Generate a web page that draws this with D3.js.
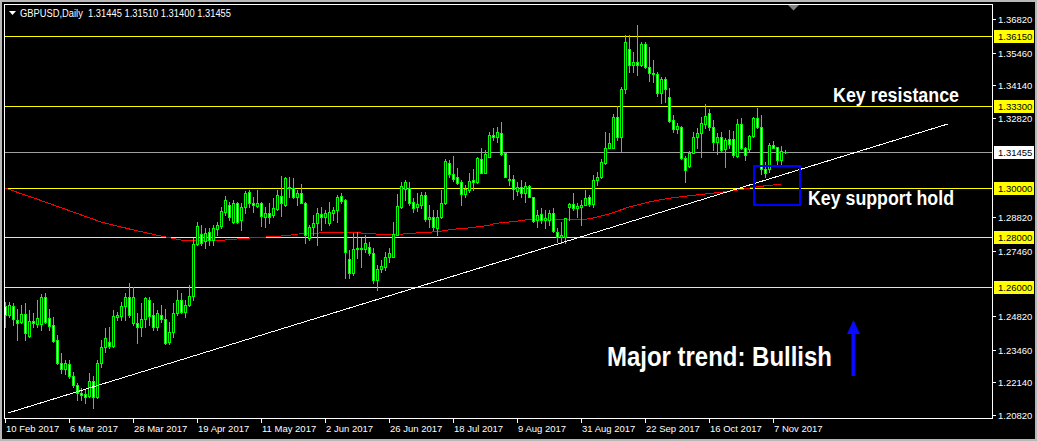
<!DOCTYPE html>
<html lang="en">
<head>
<meta charset="UTF-8">
<title>GBPUSD Daily</title>
<style>
    html, body { margin: 0; padding: 0; background: #000; }
    svg { display: block; }
    text { font-family: "Liberation Sans", Arial, sans-serif; }
    .note { font-family: "Liberation Sans Narrow", "Arial Narrow", "Liberation Sans", sans-serif; font-weight: bold; fill: #fff; }
</style>
</head>
<body>
<script src="https://cdn.jsdelivr.net/npm/d3@7/dist/d3.min.js"></script>
<script>
    const width = 1037
    const height = 441

    // OHLC per daily bar, first bar = 10 Feb 2017
    const open = [1.2523,1.2486,1.2523,1.2466,1.2459,1.2490,1.2403,1.2462,1.2450,1.2449,1.2560,1.2473,1.2446,1.2385,1.2291,1.2267,1.2288,1.2240,1.2203,1.2170,1.2167,1.2159,1.2220,1.2154,1.2291,1.2358,1.2378,1.2361,1.2477,1.2483,1.2523,1.2560,1.2453,1.2453,1.2437,1.2469,1.2547,1.2486,1.2439,1.2486,1.2469,1.2378,1.2416,1.2495,1.2547,1.2500,1.2527,1.2563,
        1.2773,1.2813,1.2786,1.2823,1.2789,1.2832,1.2846,1.2904,1.2931,1.2863,1.2937,1.2870,1.2924,1.2982,1.2937,1.2928,1.2937,1.2883,1.2897,1.2890,1.2913,1.2967,1.2931,1.3005,1.2998,1.2962,1.2978,1.2940,1.2796,1.2841,1.2857,1.2893,1.2883,1.2857,1.2899,1.2910,1.2967,1.2951,1.2711,1.2657,1.2752,1.2756,1.2752,1.2762,1.2735,1.2628,1.2671,1.2679,1.2719,1.2722,
        1.2809,1.2921,1.2994,1.3000,1.2944,1.2921,1.2931,1.2971,1.2874,1.2881,1.2837,1.2883,1.2937,1.3099,1.3056,1.3043,1.3025,1.2975,1.2991,1.3032,1.3025,1.3115,1.3061,1.3123,1.3213,1.3207,1.3223,1.3139,1.3036,1.3034,1.2988,1.3002,1.2978,1.3007,1.2962,1.2870,1.2893,1.2870,1.2870,1.2897,1.2823,1.2803,1.2803,1.2924,1.2933,1.2917,1.2924,1.2931,1.2964,1.2935,
        1.3032,1.3045,1.3099,1.3162,1.3162,1.3285,1.3207,1.3399,1.3560,1.3496,1.3510,1.3496,1.3581,1.3487,1.3465,1.3460,1.3384,1.3438,1.3366,1.3274,1.3236,1.3245,1.3119,1.3088,1.3142,1.3204,1.3223,1.3258,1.3304,1.3247,1.3186,1.3204,1.3156,1.3196,1.3196,1.3129,1.3257,1.3160,1.3156,1.3209,1.3281,1.3245,1.3075,1.3075,1.3173,1.3164,1.3112,1.31445]
    const high = [1.2539,1.2540,1.2533,1.2509,1.2527,1.2533,1.2506,1.2493,1.2547,1.2571,1.2574,1.2509,1.2479,1.2405,1.2331,1.2304,1.2304,1.2257,1.2210,1.2190,1.2183,1.2251,1.2240,1.2304,1.2385,1.2433,1.2439,1.2506,1.2500,1.2540,1.2574,1.2614,1.2601,1.2493,1.2533,1.2560,1.2560,1.2533,1.2506,1.2527,1.2509,1.2459,1.2536,1.2587,1.2576,1.2547,1.2607,1.2797,
        1.2863,1.2850,1.2837,1.2837,1.2850,1.2863,1.2924,1.2967,1.2944,1.2951,1.2944,1.2937,1.2988,1.2991,1.2964,1.2991,1.2944,1.2921,1.2937,1.2958,1.2991,1.3048,1.3045,1.3045,1.3038,1.2991,1.3015,1.2944,1.2850,1.2890,1.2917,1.2924,1.2910,1.2944,1.2924,1.2971,1.2978,1.2954,1.2749,1.2819,1.2823,1.2796,1.2809,1.2782,1.2756,1.2688,1.2708,1.2742,1.2756,1.2863,
        1.2975,1.3025,1.3032,1.3025,1.2958,1.2978,1.2984,1.2984,1.2931,1.2910,1.2910,1.2991,1.3115,1.3112,1.3129,1.3079,1.3032,1.3011,1.3061,1.3075,1.3126,1.3160,1.3153,1.3227,1.3240,1.3247,1.3267,1.3142,1.3092,1.3052,1.3025,1.3032,1.3025,1.3011,1.2964,1.2910,1.2917,1.2910,1.2910,1.2917,1.2837,1.2863,1.2879,1.2937,1.2978,1.2937,1.2951,1.2991,1.2971,1.3052,
        1.3065,1.3115,1.3227,1.3220,1.3297,1.3331,1.3409,1.3617,1.3617,1.3550,1.3658,1.3590,1.3590,1.3570,1.3516,1.3469,1.3449,1.3447,1.3402,1.3294,1.3261,1.3250,1.3129,1.3150,1.3227,1.3240,1.3287,1.3339,1.3317,1.3274,1.3220,1.3227,1.3200,1.3234,1.3231,1.3277,1.3281,1.3166,1.3213,1.3287,1.3321,1.3294,1.3106,1.3180,1.3190,1.3166,1.3169,1.31510]
    const low = [1.2438,1.2479,1.2446,1.2385,1.2453,1.2385,1.2399,1.2439,1.2439,1.2426,1.2453,1.2426,1.2378,1.2288,1.2251,1.2248,1.2230,1.2197,1.2143,1.2143,1.2132,1.2156,1.2109,1.2150,1.2277,1.2338,1.2352,1.2356,1.2466,1.2466,1.2466,1.2479,1.2446,1.2374,1.2401,1.2439,1.2446,1.2426,1.2426,1.2459,1.2369,1.2369,1.2399,1.2486,1.2493,1.2479,1.2523,1.2547,
        1.2769,1.2769,1.2756,1.2769,1.2769,1.2809,1.2837,1.2890,1.2870,1.2859,1.2857,1.2830,1.2897,1.2924,1.2904,1.2924,1.2846,1.2843,1.2857,1.2883,1.2910,1.2886,1.2927,1.2964,1.2958,1.2931,1.2937,1.2776,1.2789,1.2809,1.2769,1.2830,1.2857,1.2850,1.2870,1.2863,1.2940,1.2634,1.2634,1.2648,1.2715,1.2681,1.2742,1.2729,1.2614,1.2587,1.2661,1.2668,1.2702,1.2719,
        1.2809,1.2917,1.2951,1.2931,1.2904,1.2908,1.2917,1.2867,1.2843,1.2830,1.2809,1.2877,1.2935,1.3045,1.3029,1.3015,1.2931,1.2964,1.2984,1.2991,1.3021,1.3059,1.3059,1.3123,1.3193,1.3186,1.3133,1.3043,1.3011,1.2954,1.2971,1.2962,1.2944,1.2962,1.2863,1.2843,1.2857,1.2837,1.2850,1.2823,1.2782,1.2776,1.2778,1.2870,1.2910,1.2883,1.2850,1.2931,1.2927,1.2923,
        1.3011,1.3038,1.3096,1.3160,1.3160,1.3193,1.3150,1.3382,1.3469,1.3469,1.3456,1.3492,1.3483,1.3433,1.3429,1.3371,1.3341,1.3348,1.3267,1.3227,1.3220,1.3115,1.3025,1.3085,1.3139,1.3160,1.3123,1.3240,1.3234,1.3153,1.3137,1.3150,1.3085,1.3160,1.3126,1.3126,1.3156,1.3112,1.3150,1.3207,1.3240,1.3056,1.3045,1.3065,1.3160,1.3088,1.3092,1.31400]
    const close = [1.2486,1.2527,1.2469,1.2453,1.2489,1.2412,1.2462,1.2455,1.2473,1.2560,1.2457,1.2443,1.2381,1.2291,1.2267,1.2291,1.2240,1.2203,1.2170,1.2162,1.2156,1.2220,1.2154,1.2291,1.2356,1.2392,1.2361,1.2482,1.2486,1.2523,1.2560,1.2486,1.2560,1.2437,1.2469,1.2554,1.2482,1.2439,1.2493,1.2469,1.2372,1.2419,1.2493,1.2547,1.2500,1.2527,1.2563,1.2773,
        1.2846,1.2776,1.2816,1.2789,1.2837,1.2850,1.2908,1.2951,1.2883,1.2937,1.2863,1.2924,1.2980,1.2940,1.2931,1.2940,1.2887,1.2897,1.2881,1.2917,1.2971,1.2940,1.3038,1.2998,1.2962,1.2978,1.2940,1.2809,1.2841,1.2859,1.2897,1.2881,1.2897,1.2904,1.2910,1.2964,1.2948,1.2742,1.2657,1.2752,1.2756,1.2752,1.2776,1.2735,1.2628,1.2671,1.2684,1.2719,1.2735,1.2812,
        1.2927,1.3007,1.3025,1.2940,1.2917,1.2935,1.2971,1.2873,1.2881,1.2843,1.2883,1.2937,1.3110,1.3055,1.3036,1.3021,1.2975,1.2994,1.3029,1.3025,1.3119,1.3061,1.3137,1.3213,1.3207,1.3227,1.3135,1.3045,1.3032,1.2994,1.3002,1.2980,1.3007,1.2964,1.2866,1.2890,1.2870,1.2877,1.2897,1.2827,1.2803,1.2809,1.2877,1.2933,1.2917,1.2927,1.2931,1.2958,1.2935,1.3032,
        1.3045,1.3106,1.3160,1.3180,1.3285,1.3207,1.3399,1.3588,1.3496,1.3510,1.3496,1.3581,1.3489,1.3465,1.3459,1.3384,1.3438,1.3398,1.3271,1.3236,1.3250,1.3119,1.3072,1.3142,1.3204,1.3223,1.3261,1.3290,1.3247,1.3186,1.3207,1.3153,1.3193,1.3177,1.3133,1.3257,1.3160,1.3133,1.3209,1.3281,1.3245,1.3075,1.3059,1.3173,1.3162,1.3112,1.3149,1.31455]

    // moving average (red), read at some bar indices
    const maIdx = [0,7,15,24,32,39,45,50,55,58,61,68,71,73,78,83,87,90,94,97,101,106,109,111,113,116,118,121,122,124,127,130,136,142,146,151,156,161,165,168,171,175,179,182,185,188,191,194]
    const maVal = [1.2999,1.2960,1.2914,1.2862,1.2830,1.2805,1.2786,1.2785,1.2789,1.2793,1.2797,1.2804,1.2808,1.2813,1.2817,1.2821,1.2820,1.2816,1.2812,1.2809,1.2816,1.2820,1.2825,1.2830,1.2834,1.2838,1.2842,1.2848,1.2854,1.2859,1.2863,1.2870,1.2871,1.2873,1.2874,1.2894,1.2922,1.2943,1.2955,1.2962,1.2968,1.2975,1.2982,1.2988,1.2996,1.3004,1.3010,1.3014]

    // trend line anchors (bar index, price)
    const trendIdx = [0.75, 235.75]
    const trendVal = [1.2090, 1.3258]

    const levels = [1.36150, 1.33300, 1.30000, 1.28000, 1.26000]
    const bid = 1.31455
    const priceTicks = [1.36820, 1.35460, 1.34140, 1.32820, 1.28820, 1.27460, 1.24820, 1.23460, 1.22140, 1.20820]
    const dateLabels = ['10 Feb 2017', '6 Mar 2017', '28 Mar 2017', '19 Apr 2017', '11 May 2017', '2 Jun 2017',
        '26 Jun 2017', '18 Jul 2017', '9 Aug 2017', '31 Aug 2017', '22 Sep 2017', '16 Oct 2017', '7 Nov 2017']
    const barsPerLabel = 16

    const plotL = 4, plotR = 992, plotT = 4, plotB = 418
    const x = d3.scaleLinear().domain([-0.25, 246.75]).range([plotL, plotR])
    const y = d3.scaleLinear().domain([1.20820, 1.36820]).range([415, 19])
    const px = v => Math.round(v) + 0.5

    const svg = d3.select('body').append('svg')
        .attr('width', width)
        .attr('height', height)
        .attr('shape-rendering', 'crispEdges')

    svg.append('rect').attr('width', width).attr('height', height).attr('fill', '#000')

    // window border
    svg.append('rect')
        .attr('x', 1).attr('y', 1).attr('width', width - 2).attr('height', height - 2)
        .attr('fill', 'none').attr('stroke', '#b8b8b8').attr('stroke-width', 2)

    // horizontal levels
    svg.append('g').selectAll('line')
        .data(levels)
        .join('line')
        .attr('x1', plotL).attr('x2', plotR)
        .attr('y1', d => px(y(d))).attr('y2', d => px(y(d)))
        .attr('stroke', '#ffff00')

    svg.append('line')
        .attr('x1', plotL).attr('x2', plotR)
        .attr('y1', px(y(bid))).attr('y2', px(y(bid)))
        .attr('stroke', '#a0a0a0')

    // moving average
    const maLine = d3.line()
        .x(d => x(d[0]))
        .y(d => y(d[1]))
    svg.append('path')
        .attr('d', maLine(d3.zip(maIdx, maVal)))
        .attr('fill', 'none')
        .attr('stroke', '#ff0000')

    // candles
    const bars = open.map((o, i) => ({ i, o, h: high[i], l: low[i], c: close[i] }))
    const candles = svg.append('g')
        .selectAll('g')
        .data(bars)
        .join('g')

    candles.append('line')
        .attr('x1', d => px(x(d.i))).attr('x2', d => px(x(d.i)))
        .attr('y1', d => Math.round(y(d.h)))
        .attr('y2', d => Math.round(y(d.l)) + 1)
        .attr('stroke', '#00ff00')

    candles.append('path')
        .attr('d', d => {
            const cx = Math.round(x(d.i))
            const t = Math.round(y(Math.max(d.o, d.c)))
            const b = Math.round(y(Math.min(d.o, d.c)))
            return `M${cx - 0.5},${t + 0.5}h2v${b - t}h-2z`
        })
        .attr('fill', d => d.c >= d.o ? '#000' : '#fff')
        .attr('stroke', '#00ff00')

    // trend line
    svg.append('line')
        .attr('x1', x(trendIdx[0])).attr('y1', y(trendVal[0]))
        .attr('x2', x(trendIdx[1])).attr('y2', y(trendVal[1]))
        .attr('stroke', '#fff')

    // plot frame
    svg.append('path')
        .attr('d', `M${plotL + 0.5},${plotT + 0.5}H${plotR + 0.5}V${plotB + 0.5}H${plotL + 0.5}Z`)
        .attr('fill', 'none')
        .attr('stroke', '#fff')

    // chart shift marker
    svg.append('path')
        .attr('d', 'M788,5H799L793.5,10.5Z')
        .attr('fill', '#808080')
        .attr('shape-rendering', 'auto')

    // price axis
    const pAxis = svg.append('g').attr('font-size', '9.5px')
    pAxis.selectAll('g.t')
        .data(priceTicks)
        .join('g')
        .attr('class', 't')
        .each(function (d) {
            const g = d3.select(this)
            g.append('line')
                .attr('x1', plotR).attr('x2', plotR + 4)
                .attr('y1', px(y(d))).attr('y2', px(y(d)))
                .attr('stroke', '#fff')
            g.append('text')
                .attr('x', 998).attr('y', Math.round(y(d)) + 4)
                .attr('fill', '#fff')
                .text(d.toFixed(5))
        })

    const tags = levels.map(v => ({ v, bg: '#ffff00' })).concat([{ v: bid, bg: '#ffffff' }])
    pAxis.selectAll('g.tag')
        .data(tags)
        .join('g')
        .attr('class', 'tag')
        .each(function (d) {
            const g = d3.select(this)
            const yy = Math.round(y(d.v))
            g.append('rect')
                .attr('x', 994).attr('y', yy - 6)
                .attr('width', 40).attr('height', 13)
                .attr('fill', d.bg)
            g.append('text')
                .attr('x', 998).attr('y', yy + 4)
                .attr('fill', '#000')
                .text(d.v.toFixed(5))
        })

    // time axis
    const tAxis = svg.append('g').attr('font-size', '9.5px')
    tAxis.selectAll('g')
        .data(dateLabels)
        .join('g')
        .each(function (d, k) {
            const g = d3.select(this)
            const xx = Math.round(x(k * barsPerLabel))
            g.append('line')
                .attr('x1', xx + 0.5).attr('x2', xx + 0.5)
                .attr('y1', plotB).attr('y2', plotB + 5)
                .attr('stroke', '#fff')
            g.append('text')
                .attr('x', xx + 1).attr('y', 432)
                .attr('fill', '#fff')
                .text(d)
        })

    // header
    svg.append('path')
        .attr('d', 'M9,11H16L12.5,15Z')
        .attr('fill', '#fff')
        .attr('shape-rendering', 'auto')
    svg.append('text')
        .attr('x', 20).attr('y', 17)
        .attr('font-size', '10px')
        .attr('fill', '#fff')
        .attr('xml:space', 'preserve')
        .attr('textLength', 211)
        .attr('lengthAdjust', 'spacingAndGlyphs')
        .text(`GBPUSD,Daily  ${[open, high, low, close].map(a => a[a.length - 1].toFixed(5)).join(' ')}`)

    // annotations
    svg.append('rect')
        .attr('x', 754).attr('y', 166)
        .attr('width', 46).attr('height', 39)
        .attr('fill', 'none')
        .attr('stroke', '#0000ff')
        .attr('stroke-width', 2)

    svg.append('path')
        .attr('d', 'M851.5,376V334H847L853.5,320L860,334H855.5V376Z')
        .attr('fill', '#0a0aff')
        .attr('shape-rendering', 'auto')

    // condensed bold notes, squeezed to the widths seen in the picture
    const notes = [
        { text: 'Key resistance', x: 833, y: 102, size: 20, w: 126 },
        { text: 'Key support hold', x: 808, y: 205, size: 20, w: 146 },
        { text: 'Major trend: Bullish', x: 607, y: 366, size: 28, w: 225 }
    ]
    svg.append('g').selectAll('text')
        .data(notes)
        .join('text')
        .attr('class', 'note')
        .attr('x', d => d.x).attr('y', d => d.y)
        .attr('font-size', d => d.size + 'px')
        .attr('textLength', d => d.w)
        .attr('lengthAdjust', 'spacingAndGlyphs')
        .text(d => d.text)
</script>
</body>
</html>
